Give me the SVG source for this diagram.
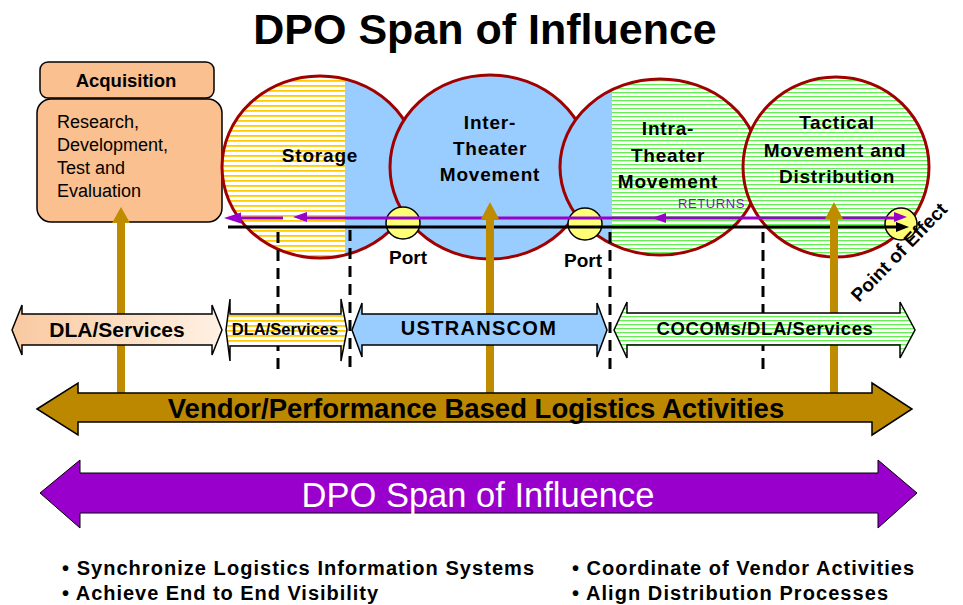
<svg xmlns="http://www.w3.org/2000/svg" width="963" height="605" viewBox="0 0 963 605">
<style>
text{font-family:"Liberation Sans",Arial,sans-serif;fill:#000}
.b{font-weight:bold}
.circ{fill:none;stroke:#A00000;stroke-width:3}
.port{fill:#FFFF77;stroke:#000;stroke-width:1.5}
.gold{fill:#BF8C00}
.dash{stroke:#000;stroke-width:3;stroke-dasharray:11 7;fill:none}
.org{stroke:#000;stroke-width:1.5}
.ct{font-size:19px;font-weight:bold;text-anchor:middle;letter-spacing:0.8px}
.bul{font-size:20px;font-weight:bold}
</style>
<defs>
<pattern id="yel" width="8" height="5" patternUnits="userSpaceOnUse"><rect width="8" height="5" fill="#fff"/><rect width="8" height="1.8" fill="#FFCC00"/></pattern>
<pattern id="grn" width="8" height="4" patternUnits="userSpaceOnUse"><rect width="8" height="4" fill="#fff"/><rect width="8" height="1.3" fill="#66EE55"/></pattern>
<linearGradient id="peach" x1="0" x2="1" y1="0" y2="0"><stop offset="0" stop-color="#F9C9A0"/><stop offset="1" stop-color="#FFF1E4"/></linearGradient>
<clipPath id="cS"><ellipse cx="320" cy="167" rx="98" ry="91"/></clipPath>
<clipPath id="cI"><ellipse cx="660" cy="167" rx="100" ry="88"/></clipPath>
</defs>
<rect width="963" height="605" fill="#fff"/>

<g id="title"><text x="485" y="44" class="b" font-size="43" text-anchor="middle">DPO Span of Influence</text></g>

<g id="acquisition">
<rect x="40" y="62" width="174" height="36" rx="8" fill="#FAC08F" stroke="#000" stroke-width="1.5"/>
<rect x="37" y="99" width="185" height="123" rx="14" fill="#FAC08F" stroke="#000" stroke-width="1.5"/>
<text x="126" y="87" class="b" font-size="18.5" text-anchor="middle">Acquisition</text>
<text font-size="18" x="57" y="128">Research,</text>
<text font-size="18" x="57" y="151">Development,</text>
<text font-size="18" x="57" y="174">Test and</text>
<text font-size="18" x="57" y="197">Evaluation</text>
</g>

<g id="storage">
<ellipse cx="320" cy="167" rx="98" ry="91" fill="url(#yel)"/>
<rect x="345" y="70" width="80" height="200" fill="#99CCFF" clip-path="url(#cS)"/>
<ellipse class="circ" cx="320" cy="167" rx="98" ry="91"/>
<text class="ct" x="320" y="162">Storage</text>
</g>

<g id="inter-theater">
<ellipse cx="490" cy="167" rx="100" ry="92" fill="#99CCFF" stroke="#A00000" stroke-width="3"/>
<text class="ct" x="490" y="129">Inter-</text>
<text class="ct" x="490" y="155">Theater</text>
<text class="ct" x="490" y="181">Movement</text>
</g>

<g id="intra-theater">
<ellipse cx="660" cy="167" rx="100" ry="88" fill="url(#grn)"/>
<rect x="555" y="70" width="57" height="200" fill="#99CCFF" clip-path="url(#cI)"/>
<ellipse class="circ" cx="660" cy="167" rx="100" ry="88"/>
<text class="ct" x="668" y="135">Intra-</text>
<text class="ct" x="668" y="162">Theater</text>
<text class="ct" x="668" y="188">Movement</text>
</g>

<g id="tactical">
<ellipse cx="836" cy="167" rx="93" ry="90" fill="url(#grn)" stroke="#A00000" stroke-width="3"/>
<text class="ct" x="837" y="129">Tactical</text>
<text class="ct" x="835" y="157">Movement and</text>
<text class="ct" x="837" y="183">Distribution</text>
</g>

<g id="port1"><ellipse class="port" cx="403" cy="223" rx="17" ry="16"/><text x="408" y="264" class="b" font-size="19" text-anchor="middle">Port</text></g>
<g id="port2"><ellipse class="port" cx="585" cy="224" rx="17" ry="16"/><text x="583" y="267" class="b" font-size="19" text-anchor="middle">Port</text></g>
<g id="point-of-effect"><circle class="port" cx="901" cy="224" r="16"/><text class="b" font-size="19" transform="translate(859,303) rotate(-46)">Point of Effect</text></g>

<g id="connectors">
<line x1="228" y1="227" x2="898" y2="227" stroke="#000" stroke-width="3"/>
<polygon points="896,222 909,227 896,232" fill="#000"/>
<line x1="232" y1="218" x2="283" y2="218" stroke="#9900CC" stroke-width="3"/>
<line x1="300" y1="218" x2="896" y2="218" stroke="#9900CC" stroke-width="3"/>
<polygon points="224,218 241,212.5 241,223.5" fill="#9900CC"/>
<polygon points="293,217 307,212 307,222" fill="#9900CC"/>
<polygon points="652,218 666,213 666,223" fill="#9900CC"/>
<polygon points="907,217 894,212 894,222" fill="#9900CC"/>
<text x="678" y="208" font-size="13" style="fill:#9900CC" letter-spacing="0.6">RETURNS</text>
<line class="dash" x1="278" y1="232" x2="278" y2="376"/>
<line class="dash" x1="350" y1="230" x2="350" y2="374"/>
<line class="dash" x1="610" y1="232" x2="610" y2="372"/>
<line class="dash" x1="763" y1="232" x2="763" y2="372"/>
<rect class="gold" x="117" y="221" width="8" height="173"/>
<polygon class="gold" points="112,223 121,207 130,223"/>
<rect class="gold" x="486" y="217" width="8" height="177"/>
<polygon class="gold" points="481,219 490,202 499,219"/>
<rect class="gold" x="830" y="217" width="8" height="177"/>
<polygon class="gold" points="825,219 834,202 843,219"/>
</g>

<g id="dla-services-1">
<polygon class="org" fill="url(#peach)" points="12,330 22,305 22,314 212,314 212,305 222,330 212,355 212,345 22,345 22,355"/>
<text x="117" y="337" class="b" font-size="21" text-anchor="middle">DLA/Services</text>
</g>
<g id="dla-services-2">
<polygon class="org" fill="url(#yel)" points="226,330 230,299 230,314 341,314 341,299 347,330 341,361 341,346 230,346 230,361"/>
<text x="285" y="335" class="b" font-size="16.5" text-anchor="middle">DLA/Services</text>
</g>
<g id="ustranscom">
<polygon class="org" fill="#99CCFF" points="352,330 362,303 362,314 597,314 597,303 607,330 597,357 597,345 362,345 362,357"/>
<text x="479" y="335" class="b" font-size="20" text-anchor="middle" letter-spacing="1.3">USTRANSCOM</text>
</g>
<g id="cocoms">
<polygon class="org" fill="url(#grn)" points="614,330 627,302 627,313 900,313 900,302 915,330 900,358 900,345 627,345 627,358"/>
<text x="765" y="335" class="b" font-size="18.5" text-anchor="middle" letter-spacing="0.6">COCOMs/DLA/Services</text>
</g>

<g id="vendor">
<polygon points="37,409 78,383 78,393 872,393 872,383 912,409 872,435 872,422 78,422 78,435" fill="#BB8800" stroke="#000" stroke-width="1.5"/>
<text x="476" y="418" class="b" font-size="27.5" text-anchor="middle">Vendor/Performance Based Logistics Activities</text>
</g>

<g id="dpo">
<polygon points="40,493 80,460 80,473 878,473 878,460 917,493 878,528 878,513 80,513 80,528" fill="#9900CC" stroke="#000" stroke-width="1"/>
<text x="478" y="507" font-size="34.5" text-anchor="middle" style="fill:#fff">DPO Span of Influence</text>
</g>

<g id="bullets">
<text class="bul" x="62" y="575" textLength="472">• Synchronize Logistics Information Systems</text>
<text class="bul" x="62" y="600" textLength="316">• Achieve End to End Visibility</text>
<text class="bul" x="572" y="575" textLength="342">• Coordinate of Vendor Activities</text>
<text class="bul" x="572" y="600" textLength="316">• Align Distribution Processes</text>
</g>
</svg>
